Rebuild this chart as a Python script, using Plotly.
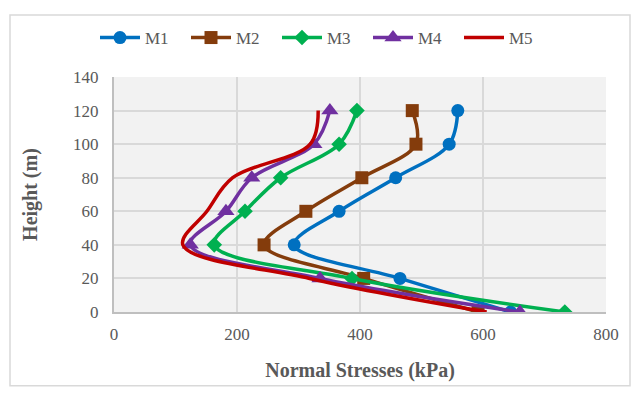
import plotly.graph_objects as go

heights = [0, 20, 40, 60, 80, 100, 120]
m1 = [645, 465, 293, 366, 458, 545, 559]
m2 = [592, 406, 244, 312, 403, 491, 485]
m3 = [733, 387, 163, 213, 271, 366, 395]
m4 = [660, 335, 124, 182, 224, 325, 351]
m5 = [606, 318, 112, 151, 193, 319, 332]

names = ["M1", "M2", "M3", "M4", "M5"]
series = [m1, m2, m3, m4, m5]
colors = ["#0070C0", "#843C0C", "#00B050", "#7030A0", "#C00000"]
symbols = ["circle", "square", "diamond", "triangle-up", None]
sizes = [13, 13, 12, 15, 0]

fig = go.Figure()
for n, s, c, sym, sz in zip(names, series, colors, symbols, sizes):
    if sym:
        fig.add_trace(go.Scatter(x=s, y=heights, name=n, mode="lines+markers",
                                 line=dict(color=c, width=3.5, shape="spline", smoothing=1),
                                 marker=dict(symbol=sym, size=sz, color=c)))
    else:
        fig.add_trace(go.Scatter(x=s, y=heights, name=n, mode="lines",
                                 line=dict(color=c, width=3.5, shape="spline", smoothing=1)))

font_family = "Liberation Serif"
fig.update_layout(
    width=636, height=394,
    margin=dict(l=114, r=30, t=70, b=82),
    paper_bgcolor="white", plot_bgcolor="#F2F2F2",
    font=dict(family=font_family, size=16, color="#595959"),
    showlegend=True,
    legend=dict(orientation="h", xref="container", x=95/636, xanchor="left",
                yref="container", y=1 - 38/394, yanchor="middle",
                font=dict(family=font_family, size=17, color="#595959"),
                itemwidth=40, entrywidth=36, entrywidthmode="pixels",
                bgcolor="rgba(0,0,0,0)"),
    xaxis=dict(range=[0, 800], dtick=200, showgrid=True, gridcolor="#D9D9D9", gridwidth=2,
               zeroline=False, showline=True, linecolor="#BFBFBF", linewidth=2,
               ticks="", ticklabelstandoff=6,
               tickfont=dict(family=font_family, size=17, color="#595959"),
               title=dict(text="<b>Normal Stresses (kPa)</b>", standoff=20,
                          font=dict(family=font_family, size=20, color="#595959"))),
    yaxis=dict(range=[0, 140], dtick=20, showgrid=True, gridcolor="#D9D9D9", gridwidth=2,
               zeroline=False, showline=True, linecolor="#BFBFBF", linewidth=2,
               ticks="", ticklabelstandoff=10,
               tickfont=dict(family=font_family, size=17, color="#595959"),
               title=dict(text="<b>Height (m)</b>", standoff=30,
                          font=dict(family=font_family, size=20, color="#595959"))),
    shapes=[dict(type="rect", xref="paper", yref="paper",
                 x0=-104/492, x1=1 + 24/492, y0=-76/242, y1=1 + 64/242,
                 line=dict(color="#D9D9D9", width=1.5), fillcolor="rgba(0,0,0,0)")],
)

fig.write_html("out.html")
